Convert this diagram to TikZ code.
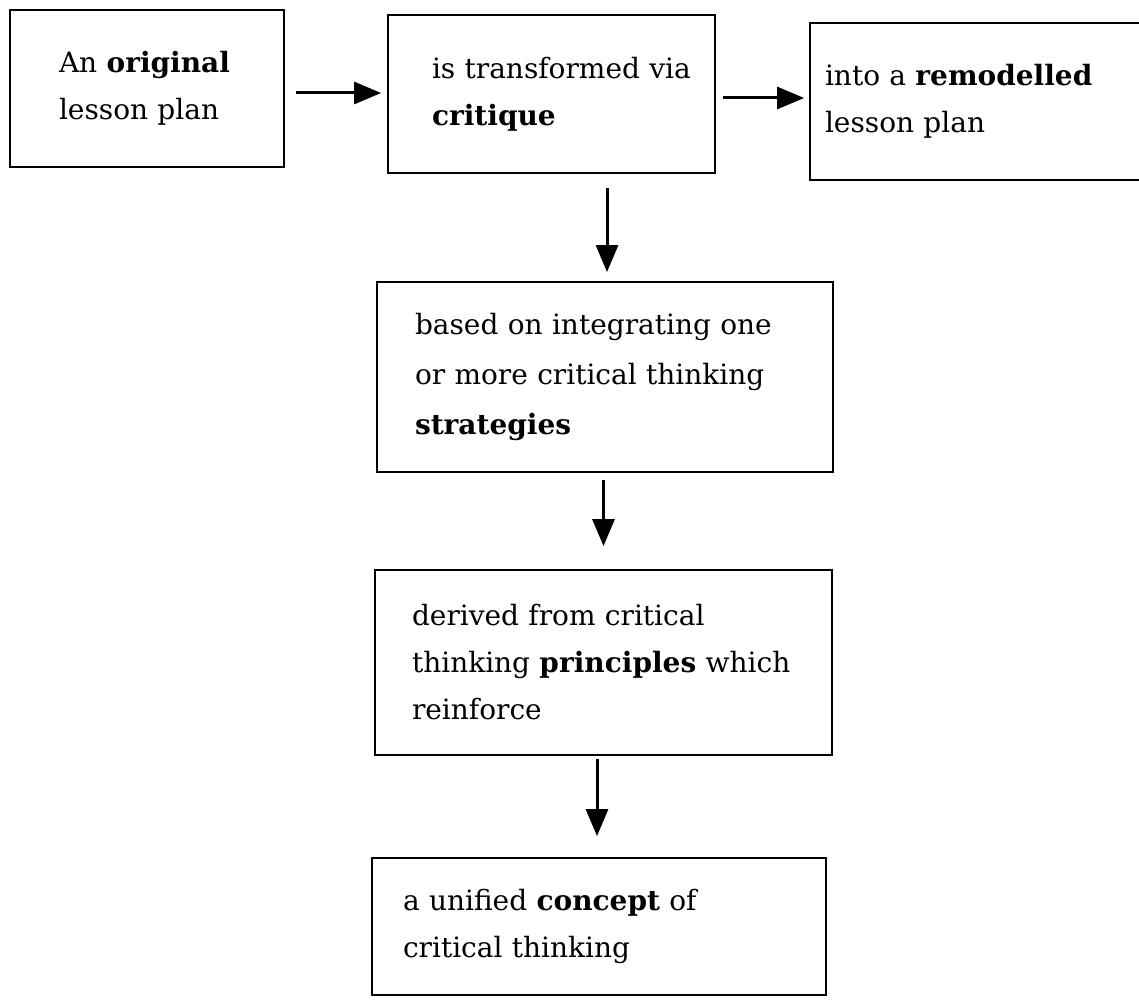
\documentclass[tikz,border=0pt]{standalone}
\usepackage{fontspec}
\setmainfont{DejaVu Serif}
\usetikzlibrary{arrows.meta,calc}
\begin{document}
\begin{tikzpicture}[x=1pt,y=1pt,
  box/.style={draw, line width=1.8pt, rectangle, inner ysep=0pt, align=left,
    font=\fontsize{28}{47}\selectfont},
  arr/.style={line width=3pt, -{Triangle[length=27pt,width=22pt]}}]
\useasboundingbox (0,0) rectangle (1139,-1000);
\node[box, minimum width=274pt, minimum height=157pt, inner xsep=49pt, text width=176pt] (b1) at (147,-88.5)
  {\mbox{An \textbf{original}}\\\mbox{lesson plan}};
\node[box, minimum width=327pt, minimum height=158pt, inner xsep=44pt, text width=239pt] (b2) at (551.5,-94)
  {\mbox{is transformed via}\\\textbf{critique}};
\node[box, minimum width=340pt, minimum height=157pt, inner xsep=15pt, text width=310pt] (b3) at (980,-101.5)
  {\mbox{into a \textbf{remodelled}}\\\mbox{lesson plan}};
\node[box, minimum width=456pt, minimum height=190pt, inner xsep=38pt, text width=380pt, font=\fontsize{28}{50}\selectfont] (b4) at (605,-377)
  {\mbox{based on integrating one}\\\mbox{or more critical thinking}\\\textbf{strategies}};
\node[box, minimum width=457pt, minimum height=185pt, inner xsep=37pt, text width=383pt] (b5) at (603.5,-662.5)
  {\mbox{derived from critical}\\\mbox{thinking \textbf{principles} which}\\reinforce};
\node[box, minimum width=454pt, minimum height=137pt, inner xsep=31pt, text width=392pt] (b6) at (599,-926.5)
  {\mbox{a unified \textbf{concept} of}\\\mbox{critical thinking}};
\draw[arr] ([xshift=11pt]b1.east |- 0,-93) -- ([xshift=-6pt]b2.west |- 0,-93);
\draw[arr] ([xshift=7pt]b2.east |- 0,-98) -- ([xshift=-5pt]b3.west |- 0,-98);
\draw[arr] ([xshift=2pt,yshift=-14pt]b4.north |- b2.south) -- ([xshift=2pt,yshift=9pt]b4.north);
\draw[arr] ([yshift=-7pt]b5.north |- b4.south) -- ([yshift=23pt]b5.north);
\draw[arr] ([xshift=-2pt,yshift=-3pt]b6.north |- b5.south) -- ([xshift=-2pt,yshift=21pt]b6.north);
\end{tikzpicture}
\end{document}
